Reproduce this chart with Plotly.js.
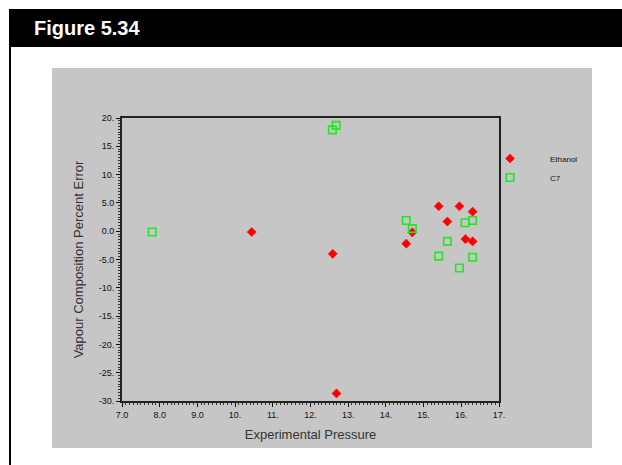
<!DOCTYPE html>
<html>
<head>
<meta charset="utf-8">
<script src="https://cdn.plot.ly/plotly-3.0.1.min.js"></script>
<style>html,body{margin:0;padding:0;background:#fff;}#chart{width:622px;height:465px;}</style>
</head>
<body>
<div id="chart"></div>
<script>
// Data
const ethanolPressure = [10.44, 12.59, 12.69, 14.54, 14.70, 15.40, 15.63, 15.95, 16.11, 16.30, 16.30];
const ethanolError    = [-0.15, -4.0, -28.66, -2.2, -0.2, 4.4, 1.7, 4.4, -1.4, 3.45, -1.8];
const c7Pressure = [7.80, 12.58, 12.68, 14.54, 14.70, 15.40, 15.63, 15.95, 16.10, 16.30, 16.30];
const c7Error    = [-0.15, 17.9, 18.7, 1.9, 0.45, -4.4, -1.8, -6.5, 1.5, 1.9, -4.6];
const xTickVals = [7, 8, 9, 10, 11, 12, 13, 14, 15, 16, 17];
const xTickText = ['7.0', '8.0', '9.0', '10.', '11.', '12.', '13.', '14.', '15.', '16.', '17.'];
const yTickVals = [20, 15, 10, 5, 0, -5, -10, -15, -20, -25, -30];
const yTickText = ['20.', '15.', '10.', '5.0', '0.0', '-5.0', '-10.', '-15.', '-20.', '-25.', '-30.'];

const traces = [
  {
    type: 'scatter', mode: 'markers', name: 'Ethanol',
    x: ethanolPressure, y: ethanolError,
    marker: {symbol: 'diamond', size: 7, color: '#ff0000', line: {width: 0.5, color: '#ff0000'}},
    cliponaxis: false
  },
  {
    type: 'scatter', mode: 'markers', name: 'C7',
    x: c7Pressure, y: c7Error,
    marker: {symbol: 'square-open', size: 7.5, color: '#22e622', line: {width: 1.6, color: '#22e622'}},
    cliponaxis: false
  }
];

const tickFont = {family: 'Liberation Sans, Arial, sans-serif', size: 9, color: '#111'};
const layout = {
  width: 622, height: 465,
  paper_bgcolor: '#ffffff',
  plot_bgcolor: '#c6c6c6',
  margin: {l: 122, r: 123, t: 118, b: 64, pad: 0},
  showlegend: true,
  legend: {
    x: (470 - 122) / 377, xanchor: 'left', y: (401 - 144) / 283, yanchor: 'top',
    font: {family: 'Liberation Sans, Arial, sans-serif', size: 8, color: '#111'},
    bgcolor: 'rgba(0,0,0,0)', borderwidth: 0,
    itemwidth: 70,
    tracegroupgap: 0
  },
  xaxis: {
    range: [7, 17], autorange: false,
    tickmode: 'array', tickvals: xTickVals, ticktext: xTickText,
    ticks: 'outside', ticklen: 4, tickwidth: 1, tickcolor: '#111',
    minor: {dtick: 0.1, ticks: 'outside', ticklen: 2, tickcolor: '#333', showgrid: false},
    showline: true, linecolor: '#222', linewidth: 2, mirror: true,
    showgrid: false, zeroline: false,
    tickfont: tickFont,
    title: {text: 'Experimental Pressure', font: {family: 'Liberation Sans, Arial, sans-serif', size: 13, color: '#333'}, standoff: 11}
  },
  yaxis: {
    range: [-30, 20], autorange: false,
    tickmode: 'array', tickvals: yTickVals, ticktext: yTickText,
    ticks: 'outside', ticklen: 4, tickwidth: 1, tickcolor: '#111',
    minor: {dtick: 0.5, ticks: 'outside', ticklen: 2, tickcolor: '#333', showgrid: false},
    showline: true, linecolor: '#222', linewidth: 2, mirror: true,
    showgrid: false, zeroline: false,
    tickfont: tickFont,
    title: {text: 'Vapour Composition Percent Error', font: {family: 'Liberation Sans, Arial, sans-serif', size: 13, color: '#333'}, standoff: 12}
  },
  shapes: [
    {type: 'rect', xref: 'paper', yref: 'paper', layer: 'below',
     x0: (52 - 122) / 377, x1: (592 - 122) / 377,
     y0: (401 - 448) / 283, y1: (401 - 68) / 283,
     fillcolor: '#c6c6c6', line: {width: 0}},
    {type: 'rect', xref: 'paper', yref: 'paper', layer: 'below',
     x0: (9 - 122) / 377, x1: (622 - 122) / 377,
     y0: (401 - 47) / 283, y1: (401 - 9) / 283,
     fillcolor: '#000000', line: {width: 0}},
    {type: 'line', xref: 'paper', yref: 'paper', layer: 'below',
     x0: (10 - 122) / 377, x1: (10 - 122) / 377,
     y0: (401 - 465) / 283, y1: (401 - 40) / 283,
     line: {width: 2, color: '#000'}}
  ],
  annotations: [
    {text: '<b>Figure 5.34</b>', xref: 'paper', yref: 'paper', showarrow: false,
     x: (32 - 122) / 377, y: (401 - 28) / 283, xanchor: 'left', yanchor: 'middle',
     font: {family: 'Liberation Sans, Arial, sans-serif', size: 20, color: '#ffffff'}}
  ]
};

Plotly.newPlot('chart', traces, layout, {displayModeBar: false, staticPlot: true});
</script>
</body>
</html>
